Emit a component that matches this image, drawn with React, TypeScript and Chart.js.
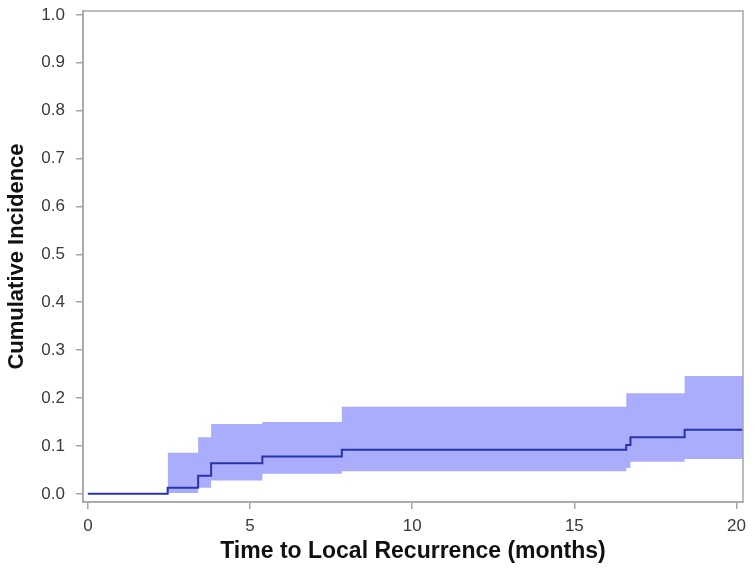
import React, { useEffect, useRef } from 'react';
import { Chart, registerables } from 'chart.js';

Chart.register(...registerables);

// Cumulative incidence step function
const times = [0, 2.46, 3.4, 3.8, 5.38, 7.83, 16.6, 16.73, 18.4, 20.2];
const incidence = [0, 0.013, 0.038, 0.064, 0.078, 0.092, 0.102, 0.118, 0.134, 0.134];

// Confidence band
const bandTimes = [2.46, 3.4, 3.8, 5.38, 7.83, 16.6, 16.73, 18.4, 20.2];
const upperCI = [0.086, 0.118, 0.146, 0.15, 0.182, 0.21, 0.21, 0.246, 0.246];
const lowerCI = [0.002, 0.013, 0.028, 0.042, 0.047, 0.054, 0.067, 0.073, 0.073];

// Tick labels
const xTicks = [0, 5, 10, 15, 20];
const yTicks = [0, 0.1, 0.2, 0.3, 0.4, 0.5, 0.6, 0.7, 0.8, 0.9, 1.0];

const FONT = "'Liberation Sans', Arial, sans-serif";

const framePlugin = {
  id: 'frame',
  afterDatasetsDraw(chart: any) {
    const { ctx, chartArea } = chart;
    ctx.save();
    ctx.strokeStyle = '#a6a6a6';
    ctx.lineWidth = 1.5;
    ctx.strokeRect(chartArea.left, chartArea.top, chartArea.right - chartArea.left, chartArea.bottom - chartArea.top);
    ctx.restore();
  },
};

export default function App() {
  const ref = useRef<HTMLCanvasElement | null>(null);

  useEffect(() => {
    if (!ref.current) return;
    const toPts = (xs: number[], ys: number[]) => xs.map((x, i) => ({ x, y: ys[i] }));
    const chart = new Chart(ref.current, {
      type: 'line',
      data: {
        datasets: [
          {
            label: 'Cumulative Incidence',
            data: toPts(times, incidence),
            stepped: 'before' as any,
            borderColor: 'rgb(40,52,170)',
            borderWidth: 2,
            pointRadius: 0,
            fill: false,
          },
          {
            label: 'Upper',
            data: toPts(bandTimes, upperCI),
            stepped: 'before' as any,
            borderWidth: 0,
            borderColor: 'rgba(0,0,0,0)',
            backgroundColor: 'rgb(170,172,252)',
            pointRadius: 0,
            fill: '+1',
          },
          {
            label: 'Lower',
            data: toPts(bandTimes, lowerCI),
            stepped: 'before' as any,
            borderWidth: 0,
            borderColor: 'rgba(0,0,0,0)',
            pointRadius: 0,
            fill: false,
          },
        ],
      },
      options: {
        responsive: false,
        animation: false,
        devicePixelRatio: 1,
        layout: { padding: { top: 11, right: 12, left: 0, bottom: 0 } },
        plugins: {
          legend: { display: false },
          tooltip: { enabled: false },
        },
        scales: {
          x: {
            type: 'linear',
            min: -0.15,
            max: 20.2,
            afterBuildTicks: (scale: any) => {
              scale.ticks = xTicks.map((v) => ({ value: v }));
            },
            afterFit: (scale: any) => {
              scale.height = 75;
              scale.paddingLeft = 0;
              scale.paddingRight = 0;
            },
            grid: {
              display: true,
              drawOnChartArea: false,
              drawTicks: true,
              tickLength: 7,
              color: '#a6a6a6',
              lineWidth: 1.5,
            },
            border: { display: true, color: '#a6a6a6', width: 1.5 },
            ticks: {
              padding: 7,
              color: '#3a3a3a',
              font: { family: FONT, size: 17 },
              callback: (v: any) => String(v),
            },
            title: {
              display: true,
              text: 'Time to Local Recurrence (months)',
              color: '#111',
              font: { family: FONT, size: 23, weight: 'bold' },
              padding: { top: 0, bottom: 12 },
            },
          },
          y: {
            type: 'linear',
            min: -0.017,
            max: 1.008,
            afterBuildTicks: (scale: any) => {
              scale.ticks = yTicks.map((v) => ({ value: v }));
            },
            afterFit: (scale: any) => {
              scale.width = 83;
              scale.paddingTop = 0;
              scale.paddingBottom = 0;
            },
            grid: {
              display: true,
              drawOnChartArea: false,
              drawTicks: true,
              tickLength: 7,
              color: '#a6a6a6',
              lineWidth: 1.5,
            },
            border: { display: true, color: '#a6a6a6', width: 1.5 },
            ticks: {
              padding: 11,
              color: '#3a3a3a',
              font: { family: FONT, size: 17 },
              callback: (v: any) => Number(v).toFixed(1),
            },
            title: {
              display: true,
              text: 'Cumulative Incidence',
              color: '#111',
              font: { family: FONT, size: 22, weight: 'bold' },
              padding: { top: 4, bottom: 0 },
            },
          },
        },
      },
      plugins: [framePlugin],
    });
    return () => chart.destroy();
  }, []);

  return (
    <div style={{ position: 'absolute', left: 0, top: 0, width: 755, height: 577, background: '#fff' }}>
      <canvas ref={ref} width={755} height={577} style={{ display: 'block' }} />
    </div>
  );
}
